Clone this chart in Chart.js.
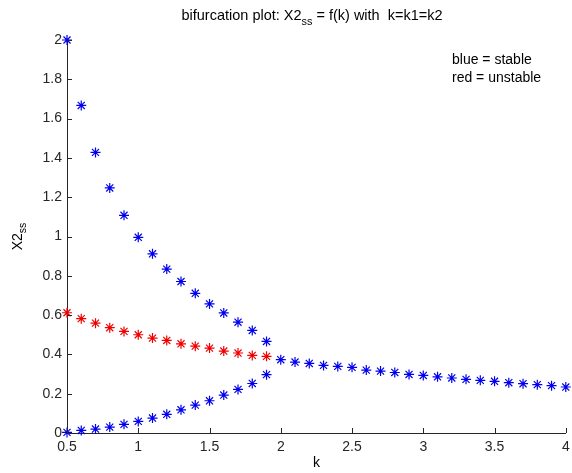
<!DOCTYPE html>
<html>
<head>
<meta charset="utf-8">
<script src="https://cdn.jsdelivr.net/npm/chart.js@4/dist/chart.umd.min.js"></script>
<style>
  html, body { margin: 0; padding: 0; background: #fff; }
  #wrap { width: 572px; height: 473px; position: relative; }
</style>
</head>
<body>
<div id="wrap"><canvas id="bif-chart"></canvas></div>
<script>
// k values (left part has 3 steady states, right part only one)
const kLeft = [0.5, 0.6, 0.7, 0.8, 0.9, 1.0, 1.1, 1.2, 1.3, 1.4, 1.5, 1.6, 1.7, 1.8, 1.9];
const kRight = [2.0, 2.1, 2.2, 2.3, 2.4, 2.5, 2.6, 2.7, 2.8, 2.9, 3.0, 3.1, 3.2, 3.3, 3.4, 3.5, 3.6, 3.7, 3.8, 3.9, 4.0];

// X2ss
const upperStable = [2.0, 1.667, 1.428, 1.247, 1.108, 0.996, 0.912, 0.834, 0.771, 0.711, 0.657, 0.611, 0.564, 0.522, 0.466];
const lowerStable = [0.003, 0.013, 0.02, 0.03, 0.044, 0.059, 0.076, 0.095, 0.118, 0.142, 0.164, 0.193, 0.222, 0.252, 0.297];
const unstable = [0.612, 0.582, 0.559, 0.536, 0.517, 0.5, 0.483, 0.471, 0.454, 0.442, 0.432, 0.417, 0.407, 0.395, 0.39];
const singleStable = [0.373, 0.361, 0.354, 0.344, 0.339, 0.334, 0.32, 0.315, 0.308, 0.298, 0.293, 0.286, 0.28, 0.273, 0.268, 0.263, 0.256, 0.251, 0.246, 0.241, 0.234];

const xTicks = [0.5, 1, 1.5, 2, 2.5, 3, 3.5, 4];
const yTicks = [0, 0.2, 0.4, 0.6, 0.8, 1, 1.2, 1.4, 1.6, 1.8, 2];

const BLUE = "#0000ee";
const RED = "#f00000";
const AXIS = "#262626";
const FONT = "Arial, 'Liberation Sans', sans-serif";

function pts(xs, ys) {
  return xs.map((x, i) => ({ x: x, y: ys[i] }));
}

function starSet(label, data, color) {
  return {
    label: label,
    data: data,
    pointStyle: "star",
    pointRadius: 5,
    pointHoverRadius: 5,
    pointBorderWidth: 1.2,
    borderColor: color,
    backgroundColor: color,
    showLine: false,
    clip: false,
  };
}

// text with a subscript part, drawn left to right
function drawSub(ctx, parts, x, y, size) {
  let cx = x;
  parts.forEach(p => {
    const s = p.sub ? size * 0.75 : size;
    ctx.font = s + "px " + FONT;
    ctx.fillText(p.t, cx, y + (p.sub ? size * 0.4 : 0));
    cx += ctx.measureText(p.t).width;
  });
  return cx - x;
}
function measureSub(ctx, parts, size) {
  let w = 0;
  parts.forEach(p => {
    ctx.font = (p.sub ? size * 0.75 : size) + "px " + FONT;
    w += ctx.measureText(p.t).width;
  });
  return w;
}

const textPlugin = {
  id: "matlabText",
  afterDraw(chart) {
    const ctx = chart.ctx;
    const a = chart.chartArea;
    const xs = chart.scales.x, ys = chart.scales.y;
    ctx.save();
    // inward tick marks
    ctx.strokeStyle = AXIS;
    ctx.lineWidth = 1;
    ctx.beginPath();
    xTicks.forEach(v => {
      const px = Math.round(xs.getPixelForValue(v)) + 0.5;
      ctx.moveTo(px, a.bottom);
      ctx.lineTo(px, a.bottom - 5);
    });
    yTicks.forEach(v => {
      const py = Math.round(ys.getPixelForValue(v)) + 0.5;
      ctx.moveTo(a.left, py);
      ctx.lineTo(a.left + 5, py);
    });
    ctx.stroke();

    ctx.fillStyle = "#000";
    ctx.textBaseline = "middle";
    ctx.textAlign = "left";
    // title
    const title = [{ t: "bifurcation plot: X2" }, { t: "ss", sub: true }, { t: " = f(k) with  k=k1=k2" }];
    const tw = measureSub(ctx, title, 14.5);
    drawSub(ctx, title, 312 - tw / 2, 16, 14.5);

    // legend notes
    ctx.font = "14px " + FONT;
    ctx.fillText("blue = stable", 452, 60);
    ctx.fillText("red = unstable", 452, 78);

    // x label
    ctx.textAlign = "center";
    ctx.fillText("k", (a.left + a.right) / 2, 463);

    // y label, rotated
    ctx.save();
    ctx.translate(18, (a.top + a.bottom) / 2);
    ctx.rotate(-Math.PI / 2);
    ctx.textAlign = "left";
    const yl = [{ t: "X2" }, { t: "ss", sub: true }];
    const yw = measureSub(ctx, yl, 14);
    drawSub(ctx, yl, -yw / 2, 0, 14);
    ctx.restore();
    ctx.restore();
  },
};

const containerChart = document.querySelector("#bif-chart").getContext("2d");

const config = {
  type: "scatter",
  data: {
    datasets: [
      starSet("stable upper", pts(kLeft, upperStable), BLUE),
      starSet("unstable", pts(kLeft, unstable), RED),
      starSet("stable lower", pts(kLeft, lowerStable), BLUE),
      starSet("stable", pts(kRight, singleStable), BLUE),
    ],
  },
  options: {
    responsive: true,
    maintainAspectRatio: false,
    animation: false,
    events: [],
    layout: { padding: { left: 0, right: 5, top: 40, bottom: 0 } },
    plugins: {
      legend: { display: false },
      tooltip: { enabled: false },
      title: { display: false },
    },
    scales: {
      x: {
        type: "linear",
        min: 0.5,
        max: 4,
        afterBuildTicks: s => { s.ticks = xTicks.map(v => ({ value: v })); },
        afterFit: s => { s.height = 40; s.paddingLeft = 0; s.paddingRight = 0; },
        grid: { drawOnChartArea: false, drawTicks: false },
        border: { display: true, color: AXIS, width: 1 },
        ticks: {
          padding: 6,
          color: AXIS,
          font: { family: FONT, size: 14 },
          maxRotation: 0,
          callback: v => String(Number(v.toFixed(1))),
        },
      },
      y: {
        type: "linear",
        min: 0,
        max: 2,
        afterBuildTicks: s => { s.ticks = yTicks.map(v => ({ value: v })); },
        afterFit: s => { s.width = 67; s.paddingTop = 0; s.paddingBottom = 0; },
        grid: { drawOnChartArea: false, drawTicks: false },
        border: { display: true, color: AXIS, width: 1 },
        ticks: {
          padding: 5,
          color: AXIS,
          font: { family: FONT, size: 14 },
          callback: v => String(Number(v.toFixed(1))),
        },
      },
    },
  },
  plugins: [textPlugin],
};

const bifChart = new Chart(containerChart, config);
</script>
</body>
</html>
